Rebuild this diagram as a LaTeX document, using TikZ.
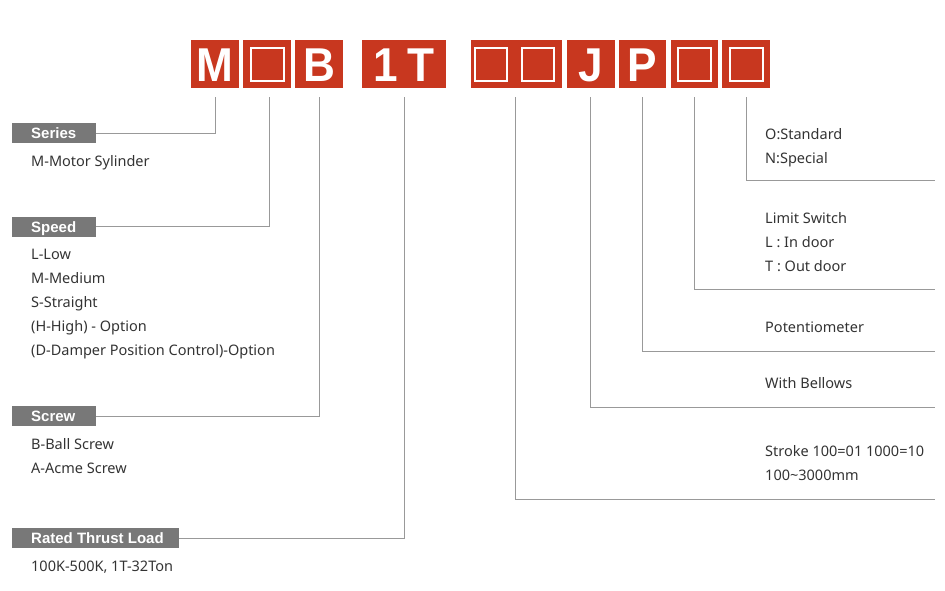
\documentclass[tikz,border=0pt]{standalone}
\usepackage{fontspec}
\setmainfont{Noto Sans}
\newfontfamily\labfont{Liberation Sans}
\newfontfamily\bigfont{Liberation Sans}[FakeStretch=0.93]
\definecolor{cred}{HTML}{C8371F}
\definecolor{cgray}{HTML}{787878}
\definecolor{cline}{HTML}{999999}
\definecolor{ctext}{HTML}{333333}
\begin{document}
\begin{tikzpicture}[x=1pt,y=-1pt,
  code/.style={fill=cred, inner sep=0pt, minimum height=48pt, minimum width=48pt,
    text=white, text height=34pt, text depth=0pt, anchor=north west,
    font=\bigfont\bfseries\fontsize{47.5}{47.5}\selectfont},
  sq/.style={draw=white, line width=2pt},
  lab/.style={fill=cgray, text=white, anchor=north west,
    inner xsep=19pt, inner ysep=4.5pt, text height=11pt, text depth=0pt,
    font=\labfont\bfseries\fontsize{15}{15}\selectfont},
  body/.style={anchor=base west, text=ctext, inner sep=0pt,
    font=\fontsize{14.5}{14.5}\selectfont},
  conn/.style={draw=cline, line width=1pt}]
\useasboundingbox (0,0) rectangle (945,590);

% code boxes
\node[code] (b1) at (191,40) {M};
\node[code] (b2) at (243,40) {};
\node[code] (b3) at (295,40) {B};
\node[code, minimum width=84pt] (b4) at (362,40) {1\hspace{10pt}T};
\node[code, minimum width=91pt] (b5) at (471,40) {};
\node[code] (b6) at (566.5,40) {J};
\node[code, minimum width=47.5pt] (b7) at (618.5,40) {P};
\node[code, minimum width=47.5pt] (b8) at (670.5,40) {};
\node[code] (b9) at (722,40) {};

% square placeholders
\draw[sq] ([xshift=-16.5pt,yshift=16.5pt]b2.center) rectangle +(33,33);
\draw[sq] ([xshift=-41.5pt,yshift=16.5pt]b5.center) rectangle +(32,33);
\draw[sq] ([xshift=5.5pt,yshift=16.5pt]b5.center) rectangle +(32,33);
\draw[sq] ([xshift=-16pt,yshift=16.5pt]b8.center) rectangle +(33,33);
\draw[sq] ([xshift=-16pt,yshift=16.5pt]b9.center) rectangle +(33,33);

% tick tops
\coordinate (t1) at (215,97);
\coordinate (t2) at (269,97);
\coordinate (t3) at (319,97);
\coordinate (t4) at (404.5,97);
\coordinate (t5) at (515,97);
\coordinate (t6) at (590,97);
\coordinate (t7) at (642,97);
\coordinate (t8) at (694.5,97);
\coordinate (t9) at (746.5,97);

% left labels
\node[lab] (lSeries) at (12,123) {\makebox[46pt][l]{Series}};
\node[lab] (lSpeed) at (12,216.5) {\makebox[46pt][l]{Speed}};
\node[lab] (lScrew) at (12,406) {\makebox[46pt][l]{Screw}};
\node[lab] (lRated) at (12,528) {\makebox[129pt][l]{Rated Thrust Load}};

\draw[conn] (lSeries.east) -| (t1);
\draw[conn] (lSpeed.east) -| (t2);
\draw[conn] (lScrew.east) -| (t3);
\draw[conn] (lRated.east) -| (t4);

% left texts
\node[body] (s1) at (31,166.5) {M-Motor Sylinder};
\node[body] (p1) at (31,259) {L-Low};
\node[body] (p2) at (31,283) {M-Medium};
\node[body] (p3) at (31,307) {S-Straight};
\node[body] (p4) at (31,331.5) {(H-High) - Option};
\node[body] (p5) at (31,355.5) {(D-Damper Position Control)-Option};
\node[body] (c1) at (31,449) {B-Ball Screw};
\node[body] (c2) at (31,473) {A-Acme Screw};
\node[body] (r1) at (31,571) {100K-500K, 1T-32Ton};

% right ends
\coordinate (e9) at (935,180);
\coordinate (e8) at (935,289);
\coordinate (e7) at (935,351);
\coordinate (e6) at (935,407);
\coordinate (e5) at (935,499);

\draw[conn] (t9) |- (e9);
\draw[conn] (t8) |- (e8);
\draw[conn] (t7) |- (e7);
\draw[conn] (t6) |- (e6);
\draw[conn] (t5) |- (e5);

% right texts
\node[body] (o1) at (765,139) {O:Standard};
\node[body] (o2) at (765,163) {N:Special};
\node[body] (w1) at (765,223) {Limit Switch};
\node[body] (w2) at (765,247.5) {L : In door};
\node[body] (w3) at (765,271.5) {T : Out door};
\node[body] (pt) at (765,332) {Potentiometer};
\node[body] (bl) at (765,388.5) {With Bellows};
\node[body] (k1) at (765,456.5) {Stroke 100=01 1000=10};
\node[body] (k2) at (765,480.5) {100\textasciitilde 3000mm};
\end{tikzpicture}
\end{document}
